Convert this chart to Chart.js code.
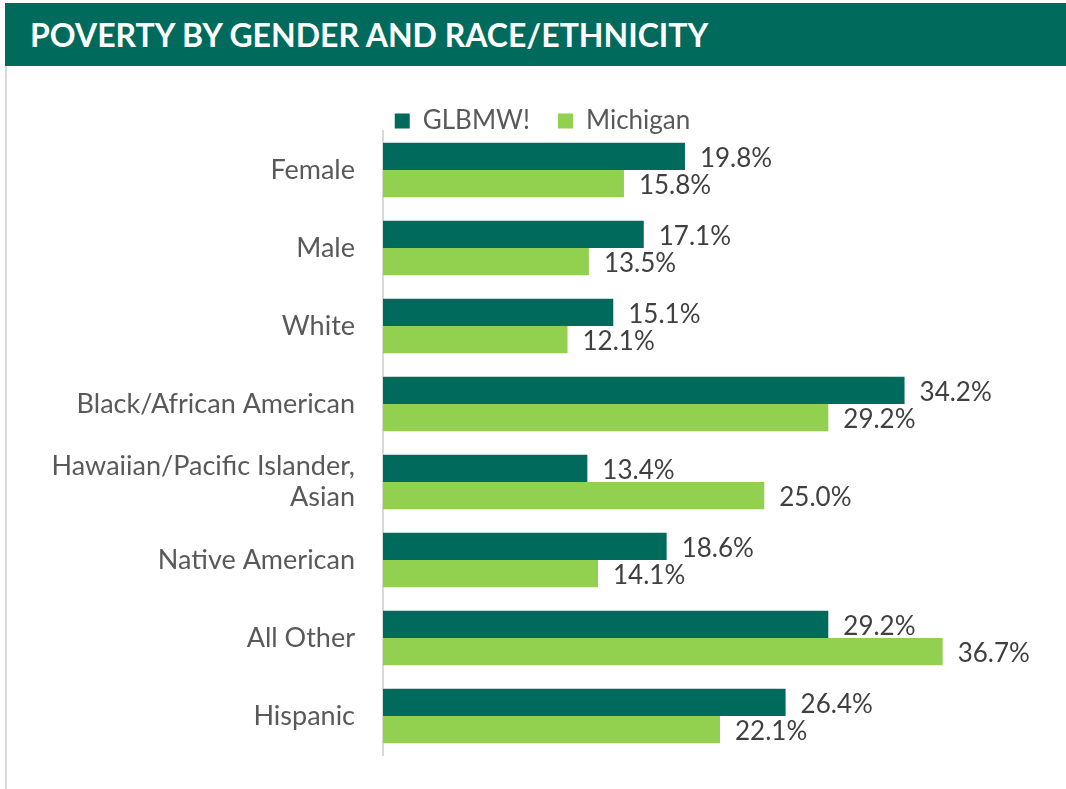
<!DOCTYPE html>
<html>
<head>
<meta charset="utf-8">
<script src="https://cdn.jsdelivr.net/npm/chart.js@4"></script>
<style>
  html, body { margin: 0; padding: 0; background: #fff; }
  body { width: 1066px; height: 789px; position: relative; overflow: hidden; font-family: Lato, "Open Sans", sans-serif; }
  #banner {
    position: absolute; left: 5px; top: 3px; width: 1061px; height: 63px;
    background: #006B5D; color: #fff; font-weight: bold; font-size: 32px;
    line-height: 63px; padding-left: 25px; box-sizing: border-box;
  }
  #edge { position: absolute; left: 5px; top: 66px; width: 2px; height: 723px; background: #d9d9d9; }
  #wrap { position: absolute; left: 0; top: 66px; width: 1066px; height: 723px; }
</style>
</head>
<body>
<div id="banner">POVERTY BY GENDER AND RACE/ETHNICITY</div>
<div id="edge"></div>
<div id="wrap"><canvas id="chart_canvas"></canvas></div>
<script>
var categories = ['Female', 'Male', 'White', 'Black/African American',
	['Hawaiian/Pacific Islander,', 'Asian'], 'Native American', 'All Other', 'Hispanic'];
var glbmwValues = [19.8, 17.1, 15.1, 34.2, 13.4, 18.6, 29.2, 26.4];
var michiganValues = [15.8, 13.5, 12.1, 29.2, 25.0, 14.1, 36.7, 22.1];
var seriesNames = ['GLBMW!', 'Michigan'];

// bar end labels, nothing fancy
var endLabels = {
	id: 'endLabels',
	afterDatasetsDraw: function(chart) {
		var ctx = chart.ctx;
		ctx.save();
		ctx.font = '26px Lato, sans-serif';
		ctx.fillStyle = '#404040';
		ctx.textAlign = 'left';
		ctx.textBaseline = 'middle';
		chart.data.datasets.forEach(function(ds, i) {
			var meta = chart.getDatasetMeta(i);
			meta.data.forEach(function(bar, j) {
				ctx.fillText(ds.data[j].toFixed(1) + '%', bar.x + 15, bar.y + 2);
			});
		});
		ctx.restore();
	}
};

// move the legend over the bars (right + down) like the original
var legendNudge = {
	id: 'legendNudge',
	afterLayout: function(chart) {
		chart.legend.left += 36;
		chart.legend.right += 36;
		chart.legend.top += 13;
		chart.legend.bottom += 13;
	}
};

new Chart(document.getElementById('chart_canvas'), {
	type: 'bar',
	data: {
		labels: categories,
		datasets: [
			{ label: seriesNames[0], data: glbmwValues, backgroundColor: '#006B5D', categoryPercentage: 0.7, barPercentage: 1.0 },
			{ label: seriesNames[1], data: michiganValues, backgroundColor: '#92D050', categoryPercentage: 0.7, barPercentage: 1.0 }
		]
	},
	plugins: [endLabels, legendNudge],
	options: {
		indexAxis: 'y',
		responsive: true,
		maintainAspectRatio: false,
		animation: false,
		layout: { padding: { left: 20, right: 73, top: 1, bottom: 34 } },
		plugins: {
			legend: {
				position: 'top',
				labels: {
					boxWidth: 15, boxHeight: 15, padding: 28,
					color: '#595959',
					font: { family: 'Lato, sans-serif', size: 26 }
				}
			},
			tooltip: { enabled: false }
		},
		scales: {
			x: { display: false, min: 0, max: 40 },
			y: {
				afterFit: function(scale) {
					scale.width = 363;
					// tick padding shouldn't eat vertical room
					scale.paddingTop = 0;
					scale.paddingBottom = 0;
				},
				grid: { display: false, drawTicks: false },
				border: { display: true, color: '#d9d9d9', width: 2 },
				ticks: {
					padding: 28,
					color: '#595959',
					font: { family: 'Lato, sans-serif', size: 27, lineHeight: 1.15 }
				}
			}
		}
	}
});
</script>
</body>
</html>
